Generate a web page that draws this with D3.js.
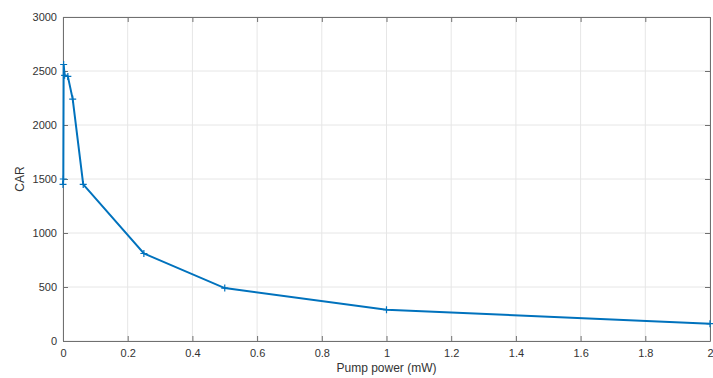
<!DOCTYPE html>
<html>
<head>
<meta charset="utf-8">
<script src="https://cdn.jsdelivr.net/npm/d3@7"></script>
<style>
body { margin: 0; background: #fff; }
svg text { font-family: "Liberation Sans", Arial, sans-serif; fill: #333; }
</style>
</head>
<body>
<div id="chart"></div>
<script>
// pump power (mW) and CAR values
var pumpPower = [0, 0.001, 0.002, 0.005, 0.015, 0.03, 0.0625, 0.25, 0.5, 1, 2];
var carValues = [1450, 1500, 2560, 2460, 2450, 2240, 1450, 810, 490, 290, 160];
var xTicks = [0, 0.2, 0.4, 0.6, 0.8, 1, 1.2, 1.4, 1.6, 1.8, 2];
var yTicks = [0, 500, 1000, 1500, 2000, 2500, 3000];

var width = 713, height = 378;
var plotLeft = 63, plotRight = 710, plotTop = 17, plotBottom = 341;

var svg = d3.select("#chart").append("svg")
    .attr("width", width)
    .attr("height", height);

var x = d3.scaleLinear().domain([0, 2]).range([plotLeft, plotRight]);
var y = d3.scaleLinear().domain([0, 3000]).range([plotBottom, plotTop]);

// grid
svg.append("g").selectAll("line")
    .data(xTicks).enter().append("line")
    .attr("x1", function(d) { return x(d); })
    .attr("x2", function(d) { return x(d); })
    .attr("y1", plotTop).attr("y2", plotBottom)
    .attr("stroke", "#e6e6e6").attr("stroke-width", 1);
svg.append("g").selectAll("line")
    .data(yTicks).enter().append("line")
    .attr("y1", function(d) { return y(d); })
    .attr("y2", function(d) { return y(d); })
    .attr("x1", plotLeft).attr("x2", plotRight)
    .attr("stroke", "#e6e6e6").attr("stroke-width", 1);

// axes, ticks pointing inward
var fmt = function(d) { return d3.format("~g")(d); };
var xAxis = d3.axisBottom(x).tickValues(xTicks).tickFormat(fmt).tickSizeInner(-5).tickSizeOuter(0).tickPadding(8);
var yAxis = d3.axisLeft(y).tickValues(yTicks).tickFormat(fmt).tickSizeInner(-5).tickSizeOuter(0).tickPadding(6);
var xTop = d3.axisTop(x).tickValues(xTicks).tickFormat("").tickSizeInner(-5).tickSizeOuter(0);
var yRight = d3.axisRight(y).tickValues(yTicks).tickFormat("").tickSizeInner(-5).tickSizeOuter(0);

function styleAxis(g) {
    g.selectAll("path").attr("stroke", "#707070");
    g.selectAll("line").attr("stroke", "#707070");
    g.selectAll("text").style("font-size", "11px").style("fill", "#333");
}

svg.append("g").attr("transform", "translate(0," + plotBottom + ")").call(xAxis).call(styleAxis);
svg.append("g").attr("transform", "translate(" + plotLeft + ",0)").call(yAxis).call(styleAxis);
svg.append("g").attr("transform", "translate(0," + plotTop + ")").call(xTop).call(styleAxis);
svg.append("g").attr("transform", "translate(" + plotRight + ",0)").call(yRight).call(styleAxis);

// data line
var pts = pumpPower.map(function(d, i) { return [d, carValues[i]]; });
var line = d3.line()
    .x(function(d) { return x(d[0]); })
    .y(function(d) { return y(d[1]); });

svg.append("path")
    .datum(pts)
    .attr("d", line)
    .attr("fill", "none")
    .attr("stroke", "#0072BD")
    .attr("stroke-width", 2);

// plus markers
svg.append("g").selectAll("path")
    .data(pts).enter().append("path")
    .attr("d", function(d) {
        var cx = x(d[0]), cy = y(d[1]), s = 3.5;
        return "M" + (cx - s) + "," + cy + "H" + (cx + s) + "M" + cx + "," + (cy - s) + "V" + (cy + s);
    })
    .attr("stroke", "#0072BD")
    .attr("stroke-width", 1.2);

// labels
svg.append("text")
    .attr("x", (plotLeft + plotRight) / 2)
    .attr("y", 372)
    .style("text-anchor", "middle")
    .style("font-size", "12px")
    .text("Pump power (mW)");

svg.append("text")
    .attr("transform", "translate(24," + ((plotTop + plotBottom) / 2) + ") rotate(-90)")
    .style("text-anchor", "middle")
    .style("font-size", "12px")
    .text("CAR");
</script>
</body>
</html>
